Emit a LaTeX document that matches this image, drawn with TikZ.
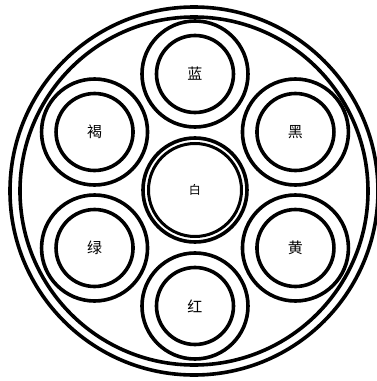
\documentclass[tikz,border=0pt]{standalone}
\usepackage{fontspec}
\newfontfamily\cjk{Noto Sans CJK SC}
\usetikzlibrary{positioning}

\begin{document}
\begin{tikzpicture}[x=1pt, y=1pt, line width=3.6pt,
	core/.style={circle, draw, minimum size=77pt, inner sep=0pt, font=\cjk\fontsize{15}{15}\selectfont}]
	\useasboundingbox (-195,-191) rectangle (182,190);
	% sheath
	\draw (-1,-1) circle (184);
	\draw (-1,-1) circle (174);
	% centre core
	\node[core, minimum size=93pt, line width=3pt, font=\cjk\fontsize{12}{12}\selectfont] (white) at (0,0) {白};
	\draw (white.center) circle (52);
	% outer cores
	\foreach \name/\ang/\txt in {blue/90/蓝, black/30/黑, yellow/-30/黄, red/-90/红, green/210/绿, brown/150/褐} {
		\node[core] (\name) at (\ang:116) {\txt};
		\draw (\name.center) circle (53);
	}
\end{tikzpicture}
\end{document}
